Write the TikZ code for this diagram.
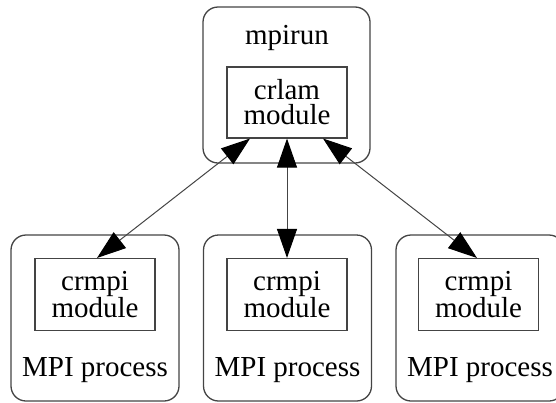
\documentclass[tikz,border=0pt]{standalone}
\usepackage{fontspec}
\setmainfont{Liberation Serif}
\usetikzlibrary{arrows.meta}
\definecolor{edgegray}{HTML}{444444}
\begin{document}
\begin{tikzpicture}[x=1pt,y=-1pt,
  cluster/.style={draw=edgegray,line width=1.3pt,rounded corners=15pt,inner sep=0pt,
    minimum width=168pt,minimum height=166pt},
  modbox/.style={draw=edgegray,line width=1.1pt,inner sep=0pt,minimum width=120pt,
    minimum height=72pt,align=center,font=\fontsize{29}{25}\selectfont},
  lbl/.style={inner sep=0pt,font=\fontsize{29}{25}\selectfont},
  link/.style={draw=edgegray,line width=1pt,
    arrows={Triangle[length=29pt 0 0,width=20pt 0 0,color=black]-Triangle[length=29pt 0 0,width=20pt 0 0,color=black]}}]
\useasboundingbox (0,0) rectangle (556,402);
\begin{scope}
\clip (0,0) rectangle (556,402);
\node[cluster,minimum width=167pt,minimum height=156pt] (top) at (286.5,85) {};
\node[cluster] (p1) at (95,318) {};
\node[cluster] (p2) at (287.5,318) {};
\node[cluster] (p3) at (480,318) {};
\end{scope}
\node[lbl] (tl) at (287,38) {mpirun};
\node[modbox,minimum height=71pt] (m0) at (287,102.5) {crlam\\module};
\node[modbox] (b1) at (95,294.5) {crmpi\\module};
\node[modbox] (b2) at (287,294.5) {crmpi\\module};
\node[modbox] (b3) at (478.5,294.5) {crmpi\\module};
\node[lbl] (l1) at (95,370) {MPI process};
\node[lbl] (l2) at (287.5,370) {MPI process};
\node[lbl] (l3) at (480,370) {MPI process};
\draw[link] ([xshift=-37pt]m0.south) -- ([xshift=2pt]b1.north);
\draw[link] (m0.south) -- (b2.north);
\draw[link] ([xshift=36pt]m0.south) -- ([xshift=-1.5pt]b3.north);
\end{tikzpicture}
\end{document}
